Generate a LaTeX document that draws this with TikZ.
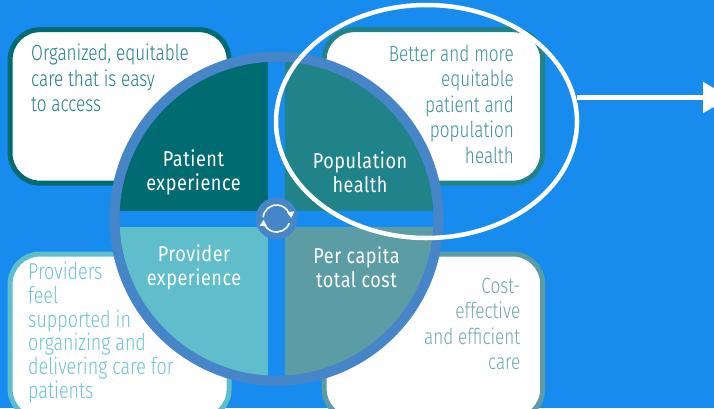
\documentclass[tikz,border=0pt]{standalone}
\usepackage{fontspec}
\setmainfont[FakeStretch=0.78]{Fira Sans Light}
\newfontfamily\labelfont[FakeStretch=0.84,LetterSpace=2.5]{Fira Sans}
\usetikzlibrary{arrows.meta,shapes.geometric}
\definecolor{bgblue}{HTML}{178CEE}
\definecolor{ringblue}{HTML}{4585C8}
\definecolor{qa}{HTML}{006B70}
\definecolor{qb}{HTML}{20838A}
\definecolor{qc}{HTML}{60BDCC}
\definecolor{qd}{HTML}{5C9CA5}
\definecolor{ta}{HTML}{1F7F86}
\definecolor{tb}{HTML}{3A9299}
\definecolor{tc}{HTML}{6CC4D3}
\definecolor{td}{HTML}{70A8AF}
\tikzset{
  x=1pt,y=-1pt,
  cardbox/.style={draw=#1,fill=white,line width=5pt,rounded corners=30pt,minimum width=219pt,inner sep=0pt,outer sep=0pt},
  cardtext/.style={text=#1,inner sep=0pt,font=\fontsize{22}{25.5}\selectfont},
  qlabel/.style={text=white,align=center,inner sep=0pt,font=\labelfont\fontsize{21.5}{24}\selectfont}
}
\begin{document}
\begin{tikzpicture}
\clip (0,0) rectangle (714,408);
\fill[bgblue] (0,0) rectangle (714,408);
% cards
\node[cardbox=qa,minimum height=153.5pt] (boxa) at (119.6,106.4) {};
\node[cardbox=qb,minimum width=218.5pt,minimum height=153.5pt] (boxb) at (433.4,106.4) {};
\node[cardbox=qc,minimum height=165pt] (boxc) at (119.6,336.5) {};
\node[cardbox=qd,minimum width=218.5pt,minimum height=165pt] (boxd) at (433.4,336.5) {};
% card texts
\node[cardtext=ta,align=left,anchor=north west] (ta) at (31,44) {Organized, equitable\\care that is easy\\to access};
\node[cardtext=tb,align=right,anchor=north east] (tb) at (514,44.5) {Better and more\\equitable\\patient and\\population\\health};
\node[cardtext=tc,align=left,anchor=north west,font=\fontsize{23}{23.8}\selectfont] (tc) at (28,262) {Providers\\feel\\supported in\\organizing and\\delivering care for\\patients};
\node[cardtext=td,align=right,anchor=north east] (td) at (520.5,277.5) {Cost-\\effective\\and efficient\\care};
% wheel
\fill[bgblue] (276.5,218.7) circle (160);
\begin{scope}
\clip (276.5,218.7) circle (157.5);
\fill[qa] (100,50) rectangle (268.4,210.7);
\fill[qb] (284.5,50) rectangle (450,210.7);
\fill[qc] (100,226.7) rectangle (268.4,390);
\fill[qd] (284.5,226.7) rectangle (450,390);
\end{scope}
\draw[ringblue,line width=10pt] (276.5,218.7) circle (162);
\node[qlabel] (la) at (193.5,172.5) {Patient\\experience};
\node[qlabel] (lb) at (360,172.5) {Population\\health};
\node[qlabel] (lc) at (194,267.5) {Provider\\experience};
\node[qlabel] (ld) at (356.5,267.5) {Per capita\\total cost};
% hub
\node[circle,fill=ringblue,minimum size=42pt,inner sep=0pt] (hub) at (276.6,218.5) {};
\draw[white,line width=1.6pt] ([shift={(185:13.5)}]hub.center) arc[start angle=185,end angle=333,radius=13.5];
\draw[white,line width=1.6pt] ([shift={(20:13.5)}]hub.center) arc[start angle=20,end angle=165,radius=13.5];
\fill[white] ([shift={(14.7,-0.5)}]hub.center) -- ([shift={(10.4,-6.2)}]hub.center) -- ([shift={(17.7,-7.2)}]hub.center) -- cycle;
\fill[white] ([shift={(-12.9,1.5)}]hub.center) -- ([shift={(-16.9,7.2)}]hub.center) -- ([shift={(-9.6,7.8)}]hub.center) -- cycle;
% highlight
\node[ellipse,draw=white,line width=4.5pt,minimum width=301pt,minimum height=233pt,inner sep=0pt,outer sep=0pt] (ell) at (426.5,121.5) {};
\coordinate (arrowend) at (730,97.5);
\draw[white,line width=5pt,-{Triangle[length=27pt,width=30pt]}] (ell.east |- arrowend) -- (arrowend);
\end{tikzpicture}
\end{document}
